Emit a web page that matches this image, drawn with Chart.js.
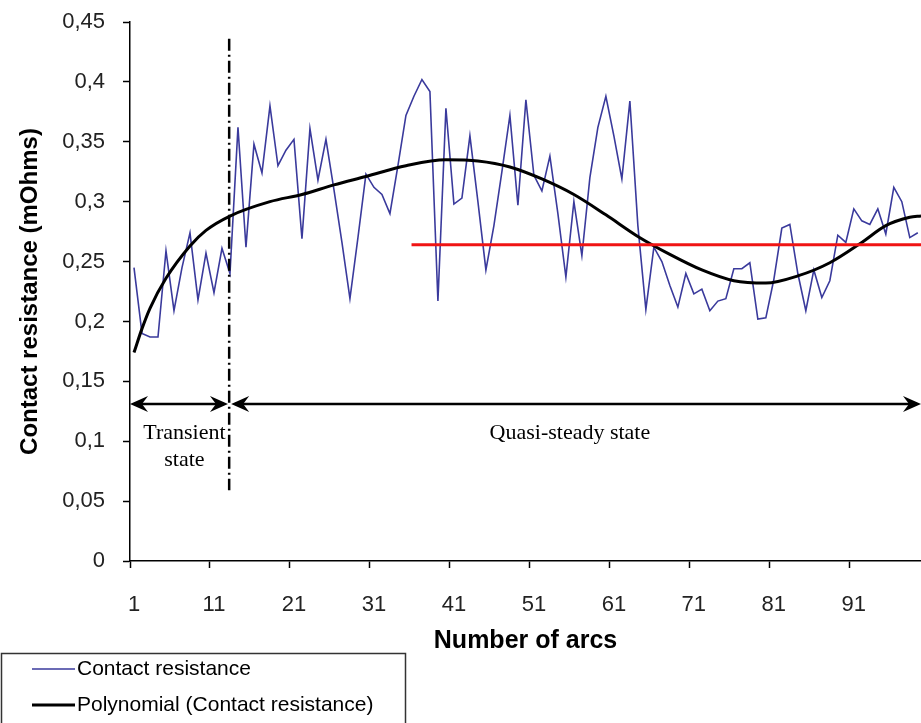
<!DOCTYPE html>
<html>
<head>
<meta charset="utf-8">
<script src="https://cdn.jsdelivr.net/npm/chart.js@4.4.0/dist/chart.umd.min.js"></script>
<style>
  body { margin: 0; background: #fff; }
  #c { display: block; }
</style>
</head>
<body>
<canvas id="c" width="921" height="723"></canvas>
<script>
// arcs 1..99 (the right edge of the picture cuts the axis just after arc 99)
const arcs = Array.from({ length: 99 }, (_, i) => i + 1);

const contactResistance = [
  0.245, 0.190, 0.187, 0.187, 0.259, 0.209, 0.245, 0.274, 0.218, 0.257,
  0.224, 0.261, 0.240, 0.362, 0.262, 0.348, 0.324, 0.380, 0.330, 0.343,
  0.352, 0.269, 0.361, 0.318, 0.352, 0.310, 0.266, 0.219, 0.270, 0.323,
  0.312, 0.306, 0.290, 0.330, 0.372, 0.388, 0.402, 0.392, 0.217, 0.378,
  0.298, 0.303, 0.355, 0.300, 0.243, 0.280, 0.325, 0.372, 0.297, 0.385,
  0.322, 0.309, 0.338, 0.290, 0.237, 0.300, 0.255, 0.320, 0.362, 0.388,
  0.355, 0.319, 0.384, 0.280, 0.210, 0.262, 0.250, 0.230, 0.212, 0.240,
  0.223, 0.227, 0.209, 0.217, 0.219, 0.244, 0.244, 0.249, 0.202, 0.203,
  0.235, 0.278, 0.281, 0.240, 0.209, 0.243, 0.220, 0.234, 0.272, 0.266,
  0.294, 0.284, 0.281, 0.294, 0.273, 0.312, 0.300, 0.270, 0.274
];

// polynomial trend, read at a few arcs along the curve
const trendArcs   = [1, 2, 3, 5, 8, 10, 13, 18, 22, 26, 30, 35, 40, 44, 48, 52, 56, 60, 64, 68, 72, 76, 80, 84, 88, 92, 95, 98, 99.4];
const trendValues = [0.174, 0.194, 0.211, 0.236, 0.263, 0.276, 0.288, 0.300, 0.306, 0.314, 0.321, 0.330, 0.335, 0.334, 0.329, 0.319, 0.306, 0.289, 0.271, 0.256, 0.243, 0.234, 0.232, 0.238, 0.249, 0.266, 0.280, 0.287, 0.288];

// red mean level over the quasi-steady part
const steadyLevel = 0.264;
const steadyRange = [35.7, 99.4];

const xTickArcs = [1, 11, 21, 31, 41, 51, 61, 71, 81, 91];
const transientEnd = 12.9;

function arrowHead(ctx, x, y, dir) {
  const L = 18, W = 8, notch = 6;
  ctx.beginPath();
  ctx.moveTo(x, y);
  ctx.lineTo(x - dir * L, y - W);
  ctx.lineTo(x - dir * (L - notch), y);
  ctx.lineTo(x - dir * L, y + W);
  ctx.closePath();
  ctx.fill();
}

function doubleArrow(ctx, x1, x2, y) {
  ctx.beginPath();
  ctx.moveTo(x1 + 4, y);
  ctx.lineTo(x2 - 4, y);
  ctx.stroke();
  arrowHead(ctx, x1, y, -1);
  arrowHead(ctx, x2, y, 1);
}

const annotations = {
  id: 'annotations',
  afterDatasetsDraw(chart) {
    const { ctx, scales: { x, y } } = chart;
    ctx.save();
    ctx.strokeStyle = '#000';
    ctx.fillStyle = '#000';

    // dash-dot separator
    ctx.lineWidth = 2.5;
    ctx.setLineDash([12, 4, 2, 4]);
    ctx.beginPath();
    ctx.moveTo(x.getPixelForValue(transientEnd), y.getPixelForValue(0.436));
    ctx.lineTo(x.getPixelForValue(transientEnd), y.getPixelForValue(0.059));
    ctx.stroke();
    ctx.setLineDash([]);

    // arrows
    ctx.lineWidth = 2.5;
    const ay = y.getPixelForValue(0.131);
    doubleArrow(ctx, x.getPixelForValue(0.5), x.getPixelForValue(12.75), ay);
    doubleArrow(ctx, x.getPixelForValue(13.15), x.getPixelForValue(99.4), ay);

    ctx.font = '22px "Liberation Serif"';
    ctx.textAlign = 'center';
    ctx.textBaseline = 'middle';
    ctx.fillText('Transient', x.getPixelForValue(7.3), y.getPixelForValue(0.107));
    ctx.fillText('state', x.getPixelForValue(7.3), y.getPixelForValue(0.084));
    ctx.fillText('Quasi-steady state', x.getPixelForValue(55.5), y.getPixelForValue(0.107));
    ctx.restore();
  }
};

const boxLegend = {
  id: 'boxLegend',
  afterDraw(chart) {
    const { ctx } = chart;
    const items = chart.data.datasets.filter(d => !d.hideInLegend);
    ctx.save();
    ctx.strokeStyle = '#333';
    ctx.lineWidth = 1.5;
    ctx.strokeRect(1.5, 653.5, 404, 100);
    ctx.font = '21px "Liberation Sans"';
    ctx.textBaseline = 'middle';
    ctx.fillStyle = '#000';
    items.forEach((d, i) => {
      const yy = 669 + i * 36;
      ctx.strokeStyle = d.borderColor;
      ctx.lineWidth = d.borderWidth;
      ctx.beginPath();
      ctx.moveTo(32, yy);
      ctx.lineTo(75, yy);
      ctx.stroke();
      ctx.fillText(d.label, 77, yy);
    });
    ctx.restore();
  }
};

new Chart(document.getElementById('c'), {
  type: 'line',
  data: {
    datasets: [
      {
        label: 'Contact resistance',
        data: arcs.map((a, i) => ({ x: a, y: contactResistance[i] })),
        borderColor: '#3a3a9c',
        borderWidth: 1.6,
        pointRadius: 0,
        tension: 0,
        order: 3
      },
      {
        label: 'Polynomial (Contact resistance)',
        data: trendArcs.map((a, i) => ({ x: a, y: trendValues[i] })),
        borderColor: '#000',
        borderWidth: 3,
        pointRadius: 0,
        cubicInterpolationMode: 'monotone',
        order: 2
      },
      {
        label: 'Steady level',
        data: steadyRange.map(a => ({ x: a, y: steadyLevel })),
        borderColor: '#f01414',
        borderWidth: 3,
        pointRadius: 0,
        hideInLegend: true,
        order: 1
      }
    ]
  },
  options: {
    responsive: false,
    animation: false,
    layout: { padding: { top: 22, right: 0, bottom: 0, left: 0 } },
    plugins: { legend: { display: false }, tooltip: { enabled: false } },
    scales: {
      x: {
        type: 'linear',
        min: 0.5,
        max: 99.4,
        afterBuildTicks: s => { s.ticks = xTickArcs.map(a => ({ value: a - 0.5 })); },
        afterFit: s => { s.height = 162; },
        grid: { drawOnChartArea: false, drawTicks: true, tickLength: 7, tickColor: '#000', tickWidth: 1.5 },
        border: { color: '#000', width: 1.5 },
        ticks: {
          callback: v => String(v + 0.5),
          labelOffset: 4,
          padding: 24,
          color: '#222',
          font: { family: 'Liberation Sans', size: 22 },
          maxRotation: 0
        },
        title: {
          display: true,
          text: 'Number of arcs',
          color: '#000',
          font: { family: 'Liberation Sans', size: 25, weight: 'bold' },
          padding: { top: 0, bottom: 67 }
        }
      },
      y: {
        min: 0,
        max: 0.45,
        afterFit: s => { s.width = 130; s.paddingTop = 0; s.paddingBottom = 0; },
        grid: { drawOnChartArea: false, drawTicks: true, tickLength: 7, tickColor: '#000', tickWidth: 1.5 },
        border: { color: '#000', width: 1.5 },
        ticks: {
          stepSize: 0.05,
          padding: 18,
          color: '#222',
          font: { family: 'Liberation Sans', size: 22 },
          callback: v => String(parseFloat(v.toFixed(2))).replace('.', ',')
        },
        title: {
          display: true,
          text: 'Contact resistance (mOhms)',
          color: '#000',
          font: { family: 'Liberation Sans', size: 24, weight: 'bold' },
          padding: { top: 16, bottom: 0 }
        }
      }
    }
  },
  plugins: [annotations, boxLegend]
});
</script>
</body>
</html>
